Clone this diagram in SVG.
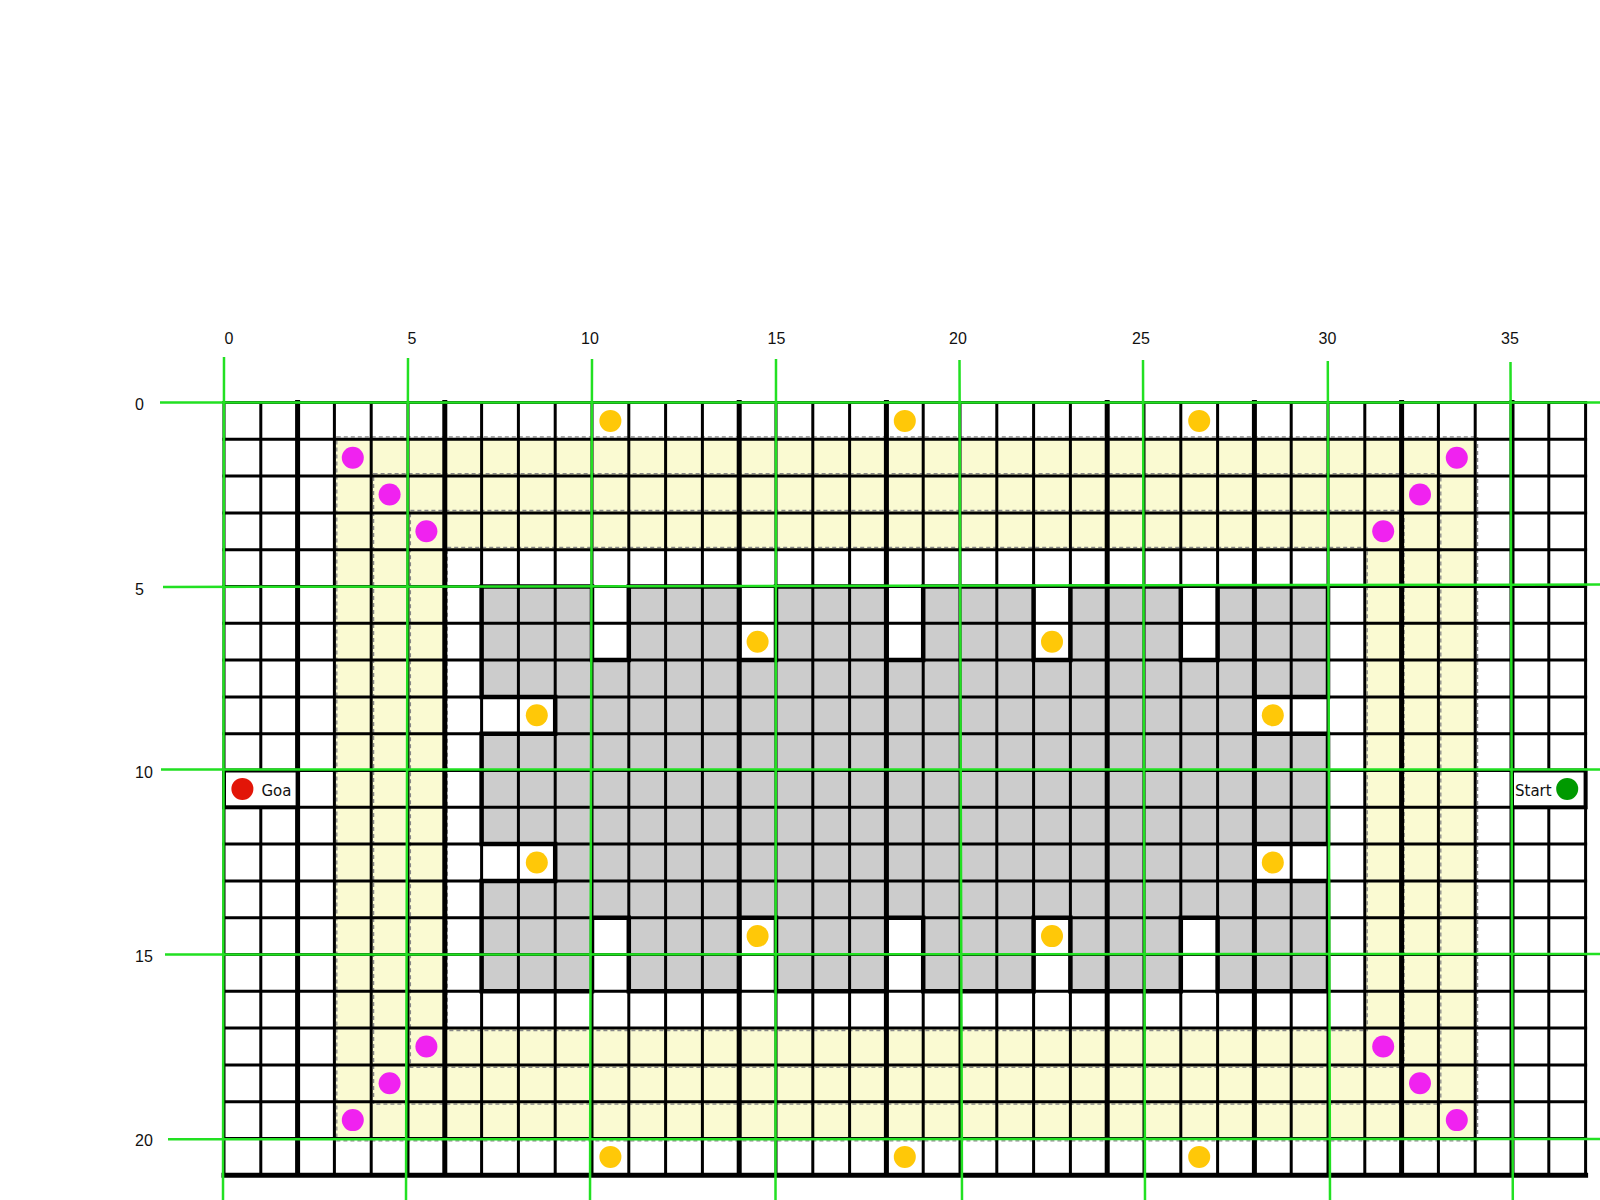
<svg xmlns="http://www.w3.org/2000/svg" width="1600" height="1200" viewBox="0 0 1600 1200">
<style>
.bg{fill:#ffffff}
.yellow{fill:#fafad2;fill-rule:evenodd}
.grey{fill:#cccccc}
.dash{fill:none;stroke:#888888;stroke-width:1.3;stroke-dasharray:4 3}
.grid{fill:none;stroke:#000000;stroke-width:3;stroke-linecap:square}
.thick{fill:none;stroke:#000000;stroke-width:5;stroke-linecap:square}
.outline{fill:none;stroke:#000000;stroke-width:4.5;stroke-linejoin:miter}
.box{fill:#ffffff;stroke:#000000;stroke-width:4}
.mag{fill:#f022f0}
.org{fill:#ffc808}
.green{fill:none;stroke:#22e022;stroke-width:2.5}
.lbl{font-family:"Liberation Sans",Arial,sans-serif;font-size:16px;fill:#111111}
.txt{font-family:"DejaVu Sans",sans-serif;font-size:15px;fill:#111111}
</style>
<rect class="bg" x="0" y="0" width="1600" height="1200"/>

<g id="rings">
<path class="yellow" d="M334.4 439.3H1475.2V1138.5H334.4Z M444.8 549.7V1028.1H1364.8V549.7Z"/>
</g>

<g id="obstacle-fill">
<path class="grey" d="M481.6 586.5H592V660.1H628.8V586.5H739.2V660.1H776V586.5H886.4V660.1H923.2V586.5H1033.6V660.1H1070.4V586.5H1180.8V660.1H1217.6V586.5H1328V696.9H1254.4V733.7H1328V844.1H1254.4V880.9H1328V991.3H1217.6V917.7H1180.8V991.3H1070.4V917.7H1033.6V991.3H923.2V917.7H886.4V991.3H776V917.7H739.2V991.3H628.8V917.7H592V991.3H481.6V880.9H555.2V844.1H481.6V733.7H555.2V696.9H481.6Z"/>
</g>

<g id="ring-borders">
<rect class="dash" x="336.8" y="436.9" width="1140.8" height="704"/>
<rect class="dash" x="373.6" y="473.7" width="1067.2" height="630.4"/>
<rect class="dash" x="410.4" y="510.5" width="993.6" height="556.8"/>
<rect class="dash" x="447.2" y="547.3" width="920" height="483.2"/>
</g>

<g id="grid">
<path class="grid" d="M224 402.5V1175.3M260.8 402.5V1175.3M297.6 402.5V1175.3M334.4 402.5V1175.3M371.2 402.5V1175.3M408 402.5V1175.3M444.8 402.5V1175.3M481.6 402.5V1175.3M518.4 402.5V1175.3M555.2 402.5V1175.3M592 402.5V1175.3M628.8 402.5V1175.3M665.6 402.5V1175.3M702.4 402.5V1175.3M739.2 402.5V1175.3M776 402.5V1175.3M812.8 402.5V1175.3M849.6 402.5V1175.3M886.4 402.5V1175.3M923.2 402.5V1175.3M960 402.5V1175.3M996.8 402.5V1175.3M1033.6 402.5V1175.3M1070.4 402.5V1175.3M1107.2 402.5V1175.3M1144 402.5V1175.3M1180.8 402.5V1175.3M1217.6 402.5V1175.3M1254.4 402.5V1175.3M1291.2 402.5V1175.3M1328 402.5V1175.3M1364.8 402.5V1175.3M1401.6 402.5V1175.3M1438.4 402.5V1175.3M1475.2 402.5V1175.3M1512 402.5V1175.3M1548.8 402.5V1175.3M1585.6 402.5V1175.3"/>
<path class="grid" d="M224 402.5H1585.6M224 439.3H1585.6M224 476.1H1585.6M224 512.9H1585.6M224 549.7H1585.6M224 586.5H1585.6M224 623.3H1585.6M224 660.1H1585.6M224 696.9H1585.6M224 733.7H1585.6M224 770.5H1585.6M224 807.3H1585.6M224 844.1H1585.6M224 880.9H1585.6M224 917.7H1585.6M224 954.5H1585.6M224 991.3H1585.6M224 1028.1H1585.6M224 1064.9H1585.6M224 1101.7H1585.6M224 1138.5H1585.6M224 1175.3H1585.6"/>
<path class="thick" d="M297.6 402.5V1175.3M444.8 402.5V1175.3M739.2 402.5V1175.3M886.4 402.5V1175.3M1107.2 402.5V1175.3M1254.4 402.5V1175.3M1401.6 402.5V1175.3M1512 402.5V1175.3M224 1175.3H1585.6"/>
</g>

<g id="obstacle">
<path class="outline" d="M481.6 586.5H592V660.1H628.8V586.5H739.2V660.1H776V586.5H886.4V660.1H923.2V586.5H1033.6V660.1H1070.4V586.5H1180.8V660.1H1217.6V586.5H1328V696.9H1254.4V733.7H1328V844.1H1254.4V880.9H1328V991.3H1217.6V917.7H1180.8V991.3H1070.4V917.7H1033.6V991.3H923.2V917.7H886.4V991.3H776V917.7H739.2V991.3H628.8V917.7H592V991.3H481.6V880.9H555.2V844.1H481.6V733.7H555.2V696.9H481.6Z"/>
</g>

<g id="goal">
<rect class="box" x="224" y="770.5" width="73.6" height="36.8"/>
<circle cx="242.4" cy="788.9" r="11" fill="#e21508"/>
<text class="txt" x="261.5" y="796">Goa</text>
</g>

<g id="start">
<rect class="box" x="1512" y="770.5" width="73.6" height="36.8"/>
<text class="txt" x="1515" y="796">Start</text>
<circle cx="1567.2" cy="788.9" r="11" fill="#009a00"/>
</g>

<g id="corner-points">
<circle class="mag" cx="352.8" cy="457.7" r="11"/>
<circle class="mag" cx="389.6" cy="494.5" r="11"/>
<circle class="mag" cx="426.4" cy="531.3" r="11"/>
<circle class="mag" cx="1456.8" cy="457.7" r="11"/>
<circle class="mag" cx="1420" cy="494.5" r="11"/>
<circle class="mag" cx="1383.2" cy="531.3" r="11"/>
<circle class="mag" cx="426.4" cy="1046.5" r="11"/>
<circle class="mag" cx="389.6" cy="1083.3" r="11"/>
<circle class="mag" cx="352.8" cy="1120.1" r="11"/>
<circle class="mag" cx="1383.2" cy="1046.5" r="11"/>
<circle class="mag" cx="1420" cy="1083.3" r="11"/>
<circle class="mag" cx="1456.8" cy="1120.1" r="11"/>
</g>

<g id="waypoints">
<circle class="org" cx="610.4" cy="420.9" r="11"/>
<circle class="org" cx="904.8" cy="420.9" r="11"/>
<circle class="org" cx="1199.2" cy="420.9" r="11"/>
<circle class="org" cx="610.4" cy="1156.9" r="11"/>
<circle class="org" cx="904.8" cy="1156.9" r="11"/>
<circle class="org" cx="1199.2" cy="1156.9" r="11"/>
<circle class="org" cx="757.6" cy="641.7" r="11"/>
<circle class="org" cx="1052" cy="641.7" r="11"/>
<circle class="org" cx="536.8" cy="715.3" r="11"/>
<circle class="org" cx="1272.8" cy="715.3" r="11"/>
<circle class="org" cx="536.8" cy="862.5" r="11"/>
<circle class="org" cx="1272.8" cy="862.5" r="11"/>
<circle class="org" cx="757.6" cy="936.1" r="11"/>
<circle class="org" cx="1052" cy="936.1" r="11"/>
</g>

<g id="guides">
<path class="green" d="M224 357L223 1200M408 358L406 1200M592 359L590 1200M776 359L775.5 1200M959.5 360L962 1200M1143 360L1145 1200M1327.8 361L1330 1200M1510.5 362L1512.8 1200"/>
<path class="green" d="M160 402.5L1600 402.5M163 587L1600 584.5M161 769.5L1600 769.5M165 954.5L1600 954M168 1139.3L1600 1139"/>
</g>

<g id="axis-labels">
<text class="lbl" x="229" y="344" text-anchor="middle">0</text>
<text class="lbl" x="412" y="344" text-anchor="middle">5</text>
<text class="lbl" x="590" y="344" text-anchor="middle">10</text>
<text class="lbl" x="776.5" y="344" text-anchor="middle">15</text>
<text class="lbl" x="958" y="344" text-anchor="middle">20</text>
<text class="lbl" x="1141" y="344" text-anchor="middle">25</text>
<text class="lbl" x="1327.5" y="344" text-anchor="middle">30</text>
<text class="lbl" x="1510" y="344" text-anchor="middle">35</text>
<text class="lbl" x="135" y="410">0</text>
<text class="lbl" x="135" y="594.5">5</text>
<text class="lbl" x="135" y="778">10</text>
<text class="lbl" x="135" y="962">15</text>
<text class="lbl" x="135" y="1146">20</text>
</g>
</svg>
